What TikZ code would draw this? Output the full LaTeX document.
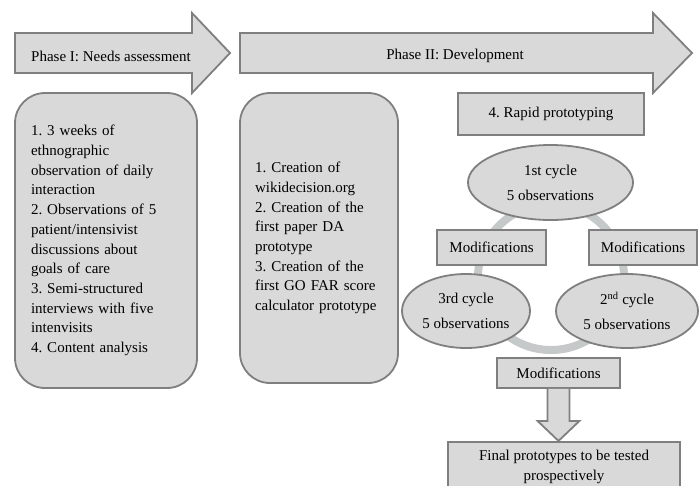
\documentclass[tikz,border=0pt]{standalone}
\usepackage{fontspec}
\setmainfont{Liberation Serif}
\usetikzlibrary{shapes.geometric,calc}
\definecolor{boxfill}{HTML}{D9D9D9}
\definecolor{boxline}{HTML}{7F7F7F}
\definecolor{ringcol}{HTML}{C5C9C9}
\frenchspacing
\begin{document}
\begin{tikzpicture}[x=1pt,y=-1pt,
  every node/.style={font=\fontsize{15}{19.7}\selectfont, text=black, inner sep=0pt},
  blockshape/.style={fill=boxfill, draw=boxline, line width=1.8pt},
  roundbox/.style={blockshape, rectangle, rounded corners=30pt, align=left, inner xsep=16pt},
  rectbox/.style={blockshape, rectangle, align=center},
  ellbox/.style={blockshape, ellipse, align=center, font=\fontsize{15}{25}\selectfont},
  ring/.style={draw=ringcol, line width=8pt}
]
\useasboundingbox (0,0) rectangle (700,485);
\begin{scope}
\clip (0,0) rectangle (700,485);
% Phase arrows
\draw[blockshape] (15,33) -- (192,33) -- (192,13) -- (230,53) -- (192,93) -- (192,73) -- (15,73) -- cycle;
\node (ph1) at (111,56) {Phase I: Needs assessment};
\draw[blockshape] (240,33) -- (653,33) -- (653,13) -- (692,53) -- (653,93) -- (653,73) -- (240,73) -- cycle;
\node (ph2) at (455,56) {Phase II: Development};

% Phase I box
\node[roundbox, text width=150pt, minimum height=295pt] (p1) at (106,240.5) {1. 3 weeks of\\
ethnographic\\
observation of daily\\
interaction\\
2. Observations of 5\\
patient/intensivist\\
discussions about\\
goals of care\\
3. Semi-structured\\
interviews with five\\
intenvisits\\
4. Content analysis};

% Phase II box
\node[roundbox, inner xsep=15pt, text width=128pt, minimum height=290pt] (p2) at (319,238) {1. Creation of\\
wikidecision.org\\
2. Creation of the\\
first paper DA\\
prototype\\
3. Creation of the\\
first GO FAR score\\
calculator prototype};

% rapid prototyping
\node[rectbox, minimum width=186pt, minimum height=42pt] (rp) at (551,114) {4. Rapid prototyping};

% cycle ring
\coordinate (ringc) at (551,277);
\draw[ring] (ringc) circle[radius=73pt];

\node[ellbox, minimum width=165pt, minimum height=75pt] (c1) at (550.5,182.5) {1st cycle\\5 observations};
\node[ellbox, minimum width=128pt, minimum height=74pt] (c3) at (466,311) {3rd cycle\\5 observations};
\node[ellbox, minimum width=142pt, minimum height=74pt] (c2) at (627,311) {2\textsuperscript{nd} cycle\\5 observations};

\node[rectbox, minimum width=109pt, minimum height=35pt] (m1) at (491.5,247.5) {Modifications};
\node[rectbox, minimum width=108pt, minimum height=35pt] (m2) at (643,247.5) {Modifications};
\node[rectbox, minimum width=123pt, minimum height=30pt] (m3) at (558.5,373) {Modifications};

% final box
\node[rectbox, minimum width=232pt, minimum height=60pt, anchor=north] (fin) at (564,441) {};
\node (fintext) at (564,467) [align=center, font=\fontsize{15}{20}\selectfont] {Final prototypes to be tested\\prospectively};

% down block arrow
\draw[blockshape] ($(m3.south)+(-11,0)$) -- ($(m3.south)+(-11,32)$) -- ($(m3.south)+(-21,32)$) -- ($(m3.south)+(0,52)$) -- ($(m3.south)+(21,32)$) -- ($(m3.south)+(11,32)$) -- ($(m3.south)+(11,0)$);
\end{scope}
\end{tikzpicture}
\end{document}
